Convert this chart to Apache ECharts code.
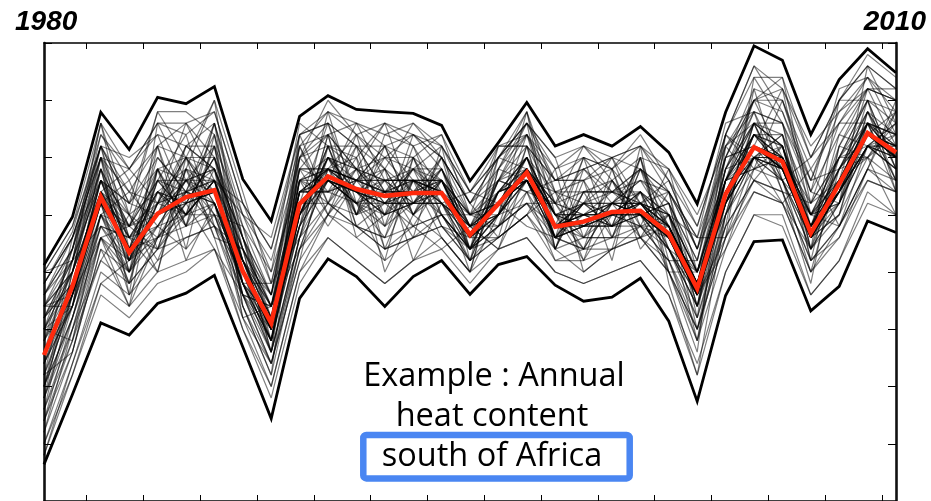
<!DOCTYPE html>
<html>
<head>
<meta charset="utf-8">
<title>Annual heat content south of Africa, 1980–2010</title>
<script src="https://cdn.jsdelivr.net/npm/echarts@6/dist/echarts.min.js"></script>
<style>
  html, body { margin: 0; padding: 0; background: #fff; }
  #chart { width: 931px; height: 501px; }
</style>
</head>
<body>
<div id="chart"></div>
<script>
// Years on the x axis (one value per year, 1980–2010)
const years = [1980,1981,1982,1983,1984,1985,1986,1987,1988,1989,1990,1991,1992,1993,1994,1995,
               1996,1997,1998,1999,2000,2001,2002,2003,2004,2005,2006,2007,2008,2009,2010];

// Tick positions on the top and bottom frame (unlabelled)
const tickYears = [1981.5,1983.5,1985.5,1987.5,1989.5,1991.5,1993.5,1995.5,1997.5,
                   1999.5,2001.5,2003.5,2005.5,2007.5,2009.5];

// Ensemble mean (red)
const ensembleMean = [25.5,37.5,53.1,43.4,50.2,53.1,54.3,40.1,31.1,51.9,56.7,54.5,53.3,53.8,53.8,46.5,
                      51.9,57.4,47.9,48.8,50.5,50.7,46.7,37.1,53.6,61.8,59.3,46.8,55.4,64.3,60.9];

// Ensemble maximum and minimum (thick black envelope)
const ensembleMax = [41.2,49.6,67.9,61.4,70.5,69.4,72.4,56.2,48.9,67.2,70.8,68.4,68.0,67.7,65.6,55.9,
                     62.6,69.6,62.0,64.0,62.0,65.4,60.9,51.9,67.9,79.5,77.0,64.0,73.6,79.0,74.8];
const ensembleMin = [6.4,18.6,31.1,29.0,34.5,36.3,39.4,26.9,14.4,35.4,42.3,39.2,34.0,39.2,42.0,36.1,
                     41.3,42.7,37.7,34.9,35.6,38.9,31.4,17.4,35.9,45.3,45.6,33.2,37.5,48.9,46.9];

// Individual ensemble members (thin grey)
const memberRuns = [
  [30,44,58,40,56,50,62,42,28,56,52,60,50,58,48,44,56,54,52,46,56,48,50,34,58,60,64,44,60,62,66],
  [20,32,50,48,44,58,50,36,34,48,62,50,58,50,58,48,48,62,44,54,46,54,44,40,50,66,56,50,52,68,58],
  [34,40,60,46,54,48,58,46,30,58,56,52,46,56,52,42,54,58,50,44,52,56,48,36,56,58,62,46,58,60,64],
  [16,30,46,42,52,60,52,38,26,46,60,58,56,52,56,46,50,56,46,52,50,48,46,38,52,64,58,48,54,66,60],
  [28,38,56,50,46,52,60,44,36,54,54,56,60,60,50,50,52,60,50,48,48,50,52,34,54,62,56,44,56,64,62],
  [24,36,52,38,58,56,48,40,30,50,60,50,52,48,56,44,54,56,48,52,54,52,46,40,56,60,60,50,52,62,58],
  [38,46,62,54,52,50,56,38,32,58,58,54,50,54,58,48,50,58,52,50,50,54,50,38,58,66,62,48,60,70,66],
  [12,26,44,40,48,54,56,36,24,46,56,52,54,56,54,44,48,54,46,50,52,50,44,32,50,58,56,46,50,60,56],
  [26,34,54,44,60,54,52,42,34,52,52,58,56,52,52,46,54,60,48,46,50,48,48,38,54,64,60,46,56,64,62],
  [32,42,56,48,50,62,58,40,30,56,60,52,48,56,56,50,52,56,54,52,48,52,50,36,56,62,58,48,58,66,64],
  [22,36,50,44,54,50,56,38,28,50,58,56,54,54,50,44,50,58,46,48,52,50,44,36,52,60,58,46,54,62,60],
  [18,34,48,46,48,56,50,42,32,48,56,54,58,50,54,46,54,56,48,50,50,52,46,38,54,62,58,48,52,64,60],
  [36,44,62,42,56,54,64,44,32,60,62,58,52,58,56,48,56,62,52,54,54,56,52,40,58,66,64,50,60,70,68],
  [28,36,54,46,44,58,54,40,30,52,58,50,54,56,54,46,52,58,46,48,50,50,48,36,52,60,60,46,54,62,60],
  [10,24,40,36,42,46,48,34,24,42,50,48,44,46,48,42,46,50,42,42,44,46,40,30,46,54,52,40,48,56,54],
  [30,40,58,44,54,52,60,42,34,54,54,56,56,56,56,48,52,60,50,50,54,54,48,38,56,64,60,48,56,66,62],
  [24,38,52,48,52,60,52,38,30,50,60,54,52,52,54,46,50,56,48,50,48,50,46,38,54,62,58,48,54,64,60],
  [34,42,56,44,58,50,56,44,34,56,56,52,54,58,54,48,54,58,50,52,52,52,50,40,56,64,62,48,58,66,64],
  [20,32,48,42,46,52,54,36,28,48,56,54,50,52,52,44,48,56,46,48,48,50,44,34,50,60,56,44,52,62,58],
  [26,38,56,44,50,56,54,42,30,54,58,56,54,54,56,46,52,58,48,50,50,52,48,38,54,62,60,46,56,64,62],
  [40,48,66,58,66,66,68,52,44,64,68,64,66,64,62,54,60,66,58,60,58,62,56,48,64,76,72,60,70,76,72],
  [8,22,36,32,38,40,44,30,18,38,46,42,38,42,44,38,44,46,40,38,40,42,36,22,40,50,48,36,42,52,50],
  [26,36,52,44,50,52,54,42,30,52,56,54,52,54,54,46,52,58,48,50,50,50,46,36,54,60,58,46,54,64,60],
  [22,34,50,40,52,54,52,38,28,50,56,52,50,52,52,44,50,56,46,48,48,48,44,34,52,60,56,46,52,62,58],
  [32,42,58,48,56,56,58,44,34,56,58,56,56,56,56,50,54,60,50,52,52,54,50,40,56,66,62,50,58,68,64],
  [14,26,46,38,44,50,50,36,26,46,52,48,46,48,50,42,48,52,44,46,46,46,42,32,48,56,54,42,48,58,54],
  [36,44,62,52,58,60,60,46,36,58,64,58,60,58,58,50,56,64,54,54,54,58,52,42,60,70,68,54,64,72,70],
  [26,38,54,44,48,50,56,40,30,54,58,54,50,56,54,46,52,56,48,50,52,52,48,38,54,62,60,48,56,64,62],
  [38,46,60,58,52,66,56,50,42,60,66,62,58,66,60,52,60,64,56,58,54,58,54,46,60,70,70,56,68,72,70],
  [14,28,46,34,58,48,62,34,22,44,58,64,48,52,60,50,50,52,52,44,58,46,50,30,48,56,62,44,50,66,56],
  [30,34,60,50,42,54,66,46,28,62,50,56,62,50,46,40,58,66,44,56,48,60,42,42,62,68,54,52,60,60,68],
  [22,42,48,40,62,44,50,38,38,46,64,48,46,60,56,46,46,50,54,48,52,46,54,36,46,60,64,42,62,70,54],
  [34,36,56,52,50,58,46,44,26,56,54,62,54,46,50,44,56,60,46,60,46,58,48,28,56,58,60,50,48,62,66],
  [18,40,52,36,46,62,58,32,34,50,62,50,56,58,52,48,44,58,50,42,56,50,40,40,52,66,56,40,58,68,56],
  [28,40,54,48,56,50,52,40,30,50,60,58,52,52,58,46,54,56,48,52,48,52,46,38,54,62,58,46,56,66,60],
  [24,34,50,42,48,56,58,42,32,54,56,52,56,56,52,48,50,58,50,48,52,50,48,36,52,60,60,48,54,62,62],
  [32,38,56,46,54,52,54,38,28,52,58,56,54,54,56,46,52,56,48,50,50,52,46,38,56,64,58,46,56,64,60],
  [20,36,52,42,50,54,52,40,30,50,56,54,52,52,54,44,50,58,48,48,50,50,46,36,54,60,58,48,54,62,60],
  [30,38,54,46,52,54,56,42,32,54,58,54,54,54,54,48,52,58,50,50,52,52,48,38,54,64,60,48,56,66,62],
  [26,36,52,44,50,52,54,40,30,52,56,54,52,54,54,46,52,56,48,48,50,50,46,36,52,62,58,46,54,64,60],
  [36,42,64,56,62,48,66,48,36,64,66,50,64,62,50,42,60,68,44,58,60,52,56,44,56,70,74,52,66,74,64],
  [12,30,42,50,40,60,46,30,20,40,50,62,44,46,62,52,46,50,58,40,44,60,40,26,62,56,52,58,48,58,70],
  [24,46,60,36,66,56,56,52,40,56,48,56,62,56,46,40,58,64,52,62,58,44,50,46,46,74,66,44,70,70,58],
  [30,28,50,54,48,44,64,34,22,60,64,46,50,64,58,48,44,54,42,44,52,56,54,32,64,58,70,54,52,76,66],
  [8,24,38,42,56,64,48,44,34,44,58,60,40,50,60,44,62,62,56,56,42,62,38,22,50,66,54,38,62,60,50],
  [40,48,62,46,40,58,70,40,26,64,52,64,58,42,52,54,52,48,46,52,60,48,58,40,60,62,72,50,56,72,72],
  [20,40,54,58,64,52,44,36,30,48,68,52,42,60,48,46,56,66,60,46,46,58,44,34,48,72,56,60,66,66,54],
  [34,34,58,40,52,62,62,50,38,58,50,58,66,52,56,50,48,52,48,60,54,50,52,42,64,60,62,42,46,58,68],
  [16,36,46,48,58,42,52,32,24,42,62,48,52,58,62,42,54,60,54,42,50,54,40,30,52,64,64,52,60,68,60],
  [28,44,66,44,50,60,58,46,32,54,56,66,56,48,44,48,58,56,44,54,56,46,48,38,58,68,58,46,64,62,64],
  [22,26,44,34,46,50,66,38,28,50,60,54,48,62,54,40,50,68,50,50,48,60,46,36,44,58,60,50,54,70,58],
  [38,46,56,52,60,54,48,42,36,60,54,52,60,54,60,52,56,54,56,56,58,52,54,44,62,66,66,56,58,64,68],
  [14,32,50,38,54,58,56,44,26,46,64,58,44,56,50,44,46,62,46,44,44,48,42,28,50,60,52,44,52,66,56],
  [32,38,52,56,44,52,60,36,34,62,52,50,62,50,56,46,60,58,52,58,52,58,50,40,56,68,66,48,62,72,62],
  [26,42,60,42,58,48,50,48,30,50,62,62,54,60,52,48,50,64,48,52,56,50,52,34,60,62,60,52,56,60,66],
  [18,30,48,46,50,56,62,40,28,56,58,56,50,52,58,44,54,56,50,48,50,54,44,36,52,64,62,46,50,68,60],
  [34,40,58,48,62,60,54,38,32,52,66,54,56,56,54,50,52,60,46,54,54,52,50,40,58,70,60,50,60,66,64],
  [24,34,52,44,46,54,58,46,34,54,54,58,54,50,56,46,56,58,52,50,48,54,48,38,54,62,58,48,58,64,62],
  [30,40,54,50,54,50,56,42,30,58,58,52,52,56,52,46,50,60,50,46,52,50,46,36,56,66,62,46,54,62,62],
  [20,36,56,42,52,56,52,40,28,48,60,56,58,54,54,48,52,56,46,52,50,52,48,38,52,60,58,50,56,66,60],
  [38,47,64,58,66,64,68,52,44,62,68,66,64,66,62,54,60,66,60,62,60,62,58,48,64,74,74,60,70,76,72],
  [34,44,60,54,62,66,60,48,40,66,62,60,66,62,64,50,62,62,56,60,58,64,56,44,60,72,70,58,66,72,70],
  [40,42,66,50,68,60,70,54,38,60,70,64,60,64,60,52,58,68,54,56,60,58,54,46,66,68,66,54,72,74,68],
  [10,22,38,34,40,42,44,32,20,40,46,42,38,42,46,40,44,46,40,38,40,42,36,24,40,50,50,36,42,54,50],
  [16,28,42,38,44,46,48,36,24,44,50,46,42,46,48,42,46,50,44,40,44,46,40,28,44,54,52,40,46,56,54],
  [36,46,62,60,64,62,66,50,46,64,66,62,62,60,64,54,62,64,58,62,56,60,58,50,62,70,72,62,68,74,70],
  [32,40,62,52,68,68,64,46,36,62,64,66,62,64,60,52,60,66,56,58,60,62,54,44,64,76,68,56,70,78,74],
  [18,32,46,40,46,48,52,38,26,44,52,48,44,48,50,44,48,52,46,44,46,48,42,30,46,56,54,42,48,58,56]
];

// Caption lines inside the plot
const captionLines = ['Example : Annual', 'heat content', 'south of Africa'];
const startLabel = '1980';
const endLabel = '2010';

const pairs = vals => years.map((y, i) => [y, vals[i]]);

const chart = echarts.init(document.getElementById('chart'), null, { renderer: 'canvas' });

const frameX = (position, width) => ({
  type: 'value', position, min: 1980, max: 2010,
  axisLine: { show: true, onZero: false, lineStyle: { color: '#000', width } },
  axisTick: { show: true, inside: true, length: 6, customValues: tickYears, lineStyle: { color: '#000', width: 1 } },
  axisLabel: { show: false }, splitLine: { show: false }
});
const frameY = (position, width) => ({
  type: 'value', position, min: 0, max: 80, interval: 10,
  axisLine: { show: true, onZero: false, lineStyle: { color: '#111', width } },
  axisTick: { show: true, inside: true, length: 8, lineStyle: { color: '#000', width: 1 } },
  axisLabel: { show: false }, splitLine: { show: false }
});

const series = [];
memberRuns.forEach((run, k) => {
  series.push({
    name: 'member ' + (k + 1), type: 'line', data: pairs(run),
    showSymbol: false, silent: true, z: 2,
    lineStyle: { color: 'rgba(0,0,0,0.5)', width: 1.2 }
  });
});
series.push({
  name: 'maximum', type: 'line', data: pairs(ensembleMax), showSymbol: false, silent: true, z: 3,
  lineStyle: { color: '#000', width: 2.8, join: 'miter' }
});
series.push({
  name: 'minimum', type: 'line', data: pairs(ensembleMin), showSymbol: false, silent: true, z: 3,
  lineStyle: { color: '#000', width: 2.8, join: 'miter' }
});
series.push({
  name: 'mean', type: 'line', data: pairs(ensembleMean), showSymbol: false, silent: true, z: 4,
  lineStyle: { color: '#ff2a0d', width: 4.5, join: 'miter' }
});

const captionFont = '32.5px "Open Sans", sans-serif';
const yearFont = 'bold italic 28px "Liberation Sans", Arial, sans-serif';

chart.setOption({
  animation: false,
  backgroundColor: '#fff',
  grid: { left: 44, top: 43, width: 852, height: 461, containLabel: false },
  xAxis: [frameX('bottom', 1.5), frameX('top', 1.5)],
  yAxis: [frameY('left', 2.6), frameY('right', 2.6)],
  series,
  graphic: [
    { type: 'text', left: 15, top: 8, z: 100,
      style: { text: startLabel, font: yearFont, fill: '#000' } },
    { type: 'text', right: 5, top: 8, z: 100,
      style: { text: endLabel, font: yearFont, fill: '#000' } },
    { type: 'rect', z: 100,
      shape: { x: 363.3, y: 435, width: 266.4, height: 43.4, r: 3 },
      style: { fill: '#fff', stroke: '#4a86f2', lineWidth: 6.5 } },
    { type: 'text', x: 494, y: 377, z: 101,
      style: { text: captionLines[0], font: captionFont, fill: '#000', align: 'center', verticalAlign: 'middle' } },
    { type: 'text', x: 492, y: 417, z: 101,
      style: { text: captionLines[1], font: captionFont, fill: '#000', align: 'center', verticalAlign: 'middle' } },
    { type: 'text', x: 492, y: 457, z: 101,
      style: { text: captionLines[2], font: captionFont, fill: '#000', align: 'center', verticalAlign: 'middle' } }
  ]
});
</script>
</body>
</html>
